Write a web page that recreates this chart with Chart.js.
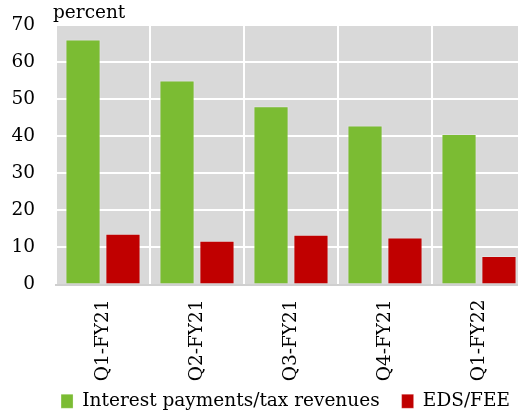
<!DOCTYPE html>
<html>
<head>
<meta charset="utf-8">
<script src="https://cdn.jsdelivr.net/npm/chart.js@4.4.1/dist/chart.umd.min.js"></script>
<style>
  html, body { margin: 0; padding: 0; background: #fff; overflow: hidden; }
  #wrap { width: 571px; height: 431px; }
</style>
</head>
<body>
<div id="wrap"><canvas id="chart" width="571" height="431"></canvas></div>
<script>
// quarters and the two ratios, in percent
const quarters = ["Q1-FY21", "Q2-FY21", "Q3-FY21", "Q4-FY21", "Q1-FY22"];
const interestToRevenue = [66.1, 55.0, 48.1, 42.9, 40.6];
const edsToFee = [13.7, 11.8, 13.4, 12.7, 7.7];
const yMax = 70;
const yStep = 10;

const FONT = "'DejaVu Serif', serif";
const FONT_SIZE = 18.5;

// grey plot background, "percent" unit label, legend pulled up under the axis labels
const plotBg = {
    id: "plotBg",
    afterLayout(chart) {
        chart.legend.top = 370;
    },
    beforeDraw(chart) {
        const a = chart.chartArea;
        const c = chart.ctx;
        c.save();
        c.fillStyle = "#d9d9d9";
        c.fillRect(a.left, a.top, a.right - a.left, a.bottom - a.top);
        c.restore();
    },
    afterDraw(chart) {
        const a = chart.chartArea;
        const c = chart.ctx;
        c.save();
        c.fillStyle = "#000";
        c.font = FONT_SIZE + "px " + FONT;
        c.textBaseline = "alphabetic";
        c.fillText("percent", a.left - 3, a.top - 7);
        c.restore();
    }
};

new Chart(document.getElementById("chart"), {
    type: "bar",
    data: {
        labels: quarters,
        datasets: [
            {
                label: "Interest payments/tax revenues",
                data: interestToRevenue,
                backgroundColor: "#7bbc33",
                borderColor: "rgba(255,255,255,0.25)",
                borderWidth: 1
            },
            {
                label: "EDS/FEE",
                data: edsToFee,
                backgroundColor: "#c00000",
                borderColor: "rgba(255,255,255,0.25)",
                borderWidth: 1
            }
        ]
    },
    options: {
        responsive: false,
        animation: false,
        categoryPercentage: 0.85,
        barPercentage: 0.88,
        layout: { padding: { left: 0, right: 0, top: 25, bottom: 0 } },
        plugins: {
            tooltip: { enabled: false },
            legend: {
                position: "bottom",
                labels: {
                    color: "#000",
                    font: { family: FONT, size: FONT_SIZE },
                    boxWidth: 12,
                    boxHeight: 14,
                    padding: 22
                }
            }
        },
        scales: {
            x: {
                grid: { color: "#fff", lineWidth: 2, drawTicks: false },
                border: { color: "#cfcfcf", width: 2 },
                ticks: {
                    color: "#000",
                    font: { family: FONT, size: FONT_SIZE },
                    minRotation: 90,
                    maxRotation: 90,
                    padding: 15
                },
                afterFit(scale) { scale.height = 96; }
            },
            y: {
                min: 0,
                max: yMax,
                grid: { color: "#fff", lineWidth: 2, drawTicks: false },
                border: { display: false },
                ticks: {
                    stepSize: yStep,
                    color: "#000",
                    font: { family: FONT, size: FONT_SIZE },
                    padding: 21
                },
                afterFit(scale) {
                    scale.width = 56;
                    scale.paddingTop = 0;
                    scale.paddingBottom = 0;
                }
            },
            // empty spacer on the right so the plot runs to the edge of the page
            spacer: {
                type: "linear",
                position: "right",
                grid: { display: false },
                border: { display: false },
                ticks: { display: false },
                afterFit(scale) { scale.width = 45; }
            }
        }
    },
    plugins: [plotBg]
});
</script>
</body>
</html>
